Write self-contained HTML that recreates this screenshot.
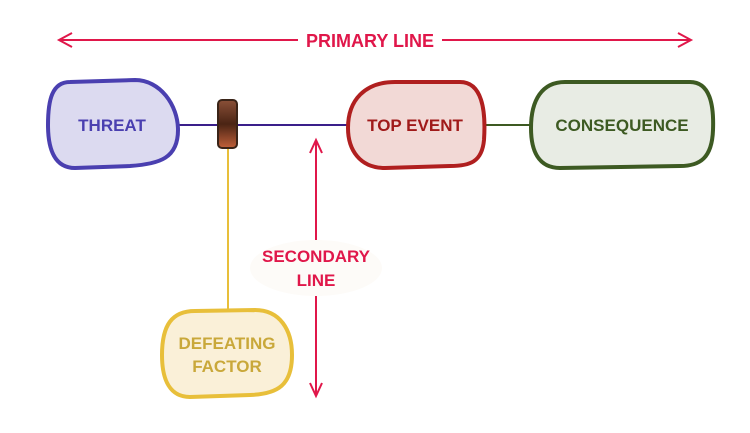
<!DOCTYPE html>
<html><head><style>
html,body{margin:0;padding:0;background:#fff;}
svg{display:block;}
text{font-family:"Liberation Sans",sans-serif;font-weight:bold;}
</style></head><body>
<svg width="750" height="433" viewBox="0 0 750 433" xmlns="http://www.w3.org/2000/svg">
<defs>
<linearGradient id="bg" x1="0" y1="0" x2="0" y2="1">
<stop offset="0" stop-color="#8a5038"/><stop offset="0.5" stop-color="#4a2414"/><stop offset="1" stop-color="#c0603a"/>
</linearGradient>
</defs>
<!-- primary arrow -->
<line x1="60" y1="40" x2="298" y2="40" stroke="#e0174a" stroke-width="2"/>
<line x1="442" y1="40" x2="690" y2="40" stroke="#e0174a" stroke-width="2"/>
<polyline points="72,33 59,40 72,47" fill="none" stroke="#e0174a" stroke-width="2"/>
<polyline points="678,33 691,40 678,47" fill="none" stroke="#e0174a" stroke-width="2"/>
<text x="370" y="47" text-anchor="middle" font-size="18" fill="#e0174a">PRIMARY LINE</text>
<!-- connectors -->
<line x1="176" y1="125" x2="350" y2="125" stroke="#3a1f8a" stroke-width="2"/>
<line x1="483" y1="125" x2="532" y2="125" stroke="#3d5a22" stroke-width="2"/>
<line x1="228" y1="146" x2="228" y2="312" stroke="#e8bf3a" stroke-width="2"/>
<!-- secondary arrow -->
<line x1="316" y1="142" x2="316" y2="394" stroke="#e0174a" stroke-width="2"/>
<polyline points="310,153 316,140 322,153" fill="none" stroke="#e0174a" stroke-width="2"/>
<polyline points="310,383 316,396 322,383" fill="none" stroke="#e0174a" stroke-width="2"/>
<ellipse cx="316" cy="268" rx="66" ry="28" fill="#fdfbf8"/>
<text x="316" y="262" text-anchor="middle" font-size="17" fill="#e0174a">SECONDARY</text>
<text x="316" y="286" text-anchor="middle" font-size="17" fill="#e0174a">LINE</text>
<!-- threat -->
<path d="M70,82 L135,80 C160,80 178,105 178,130 C178,158 160,164 130,166 L75,168 C55,168 48,150 48,125 C48,100 52,82 70,82 Z" fill="#dcdaf0" stroke="#4a3fb0" stroke-width="4"/>
<text x="112" y="131" text-anchor="middle" font-size="17" fill="#4a3fb0">THREAT</text>
<!-- barrier -->
<rect x="218" y="100" width="19" height="48" rx="4" fill="url(#bg)" stroke="#3a2418" stroke-width="2"/>
<!-- top event -->
<path d="M395,82 L460,82 C482,82 486,110 484,140 C482,162 470,166 450,166 L385,168 C360,168 348,150 348,128 C348,100 365,82 395,82 Z" fill="#f2d9d6" stroke="#b01f1f" stroke-width="4"/>
<text x="415" y="131" text-anchor="middle" font-size="17" fill="#a01a1a">TOP EVENT</text>
<!-- consequence -->
<path d="M565,82 L690,82 C710,82 714,105 713,130 C712,158 700,166 680,166 L560,168 C538,168 531,150 531,128 C531,100 542,82 565,82 Z" fill="#e8ece4" stroke="#3d5a22" stroke-width="4"/>
<text x="622" y="131" text-anchor="middle" font-size="17" fill="#3d5a22">CONSEQUENCE</text>
<!-- defeating factor -->
<path d="M195,311 L255,310 C280,310 292,330 292,355 C292,385 278,394 250,395 L190,397 C170,397 162,380 162,355 C162,325 172,311 195,311 Z" fill="#faf0d8" stroke="#e8bf3a" stroke-width="4"/>
<text x="227" y="349" text-anchor="middle" font-size="17" fill="#c9a83a">DEFEATING</text>
<text x="227" y="372" text-anchor="middle" font-size="17" fill="#c9a83a">FACTOR</text>
</svg>
</body></html>
